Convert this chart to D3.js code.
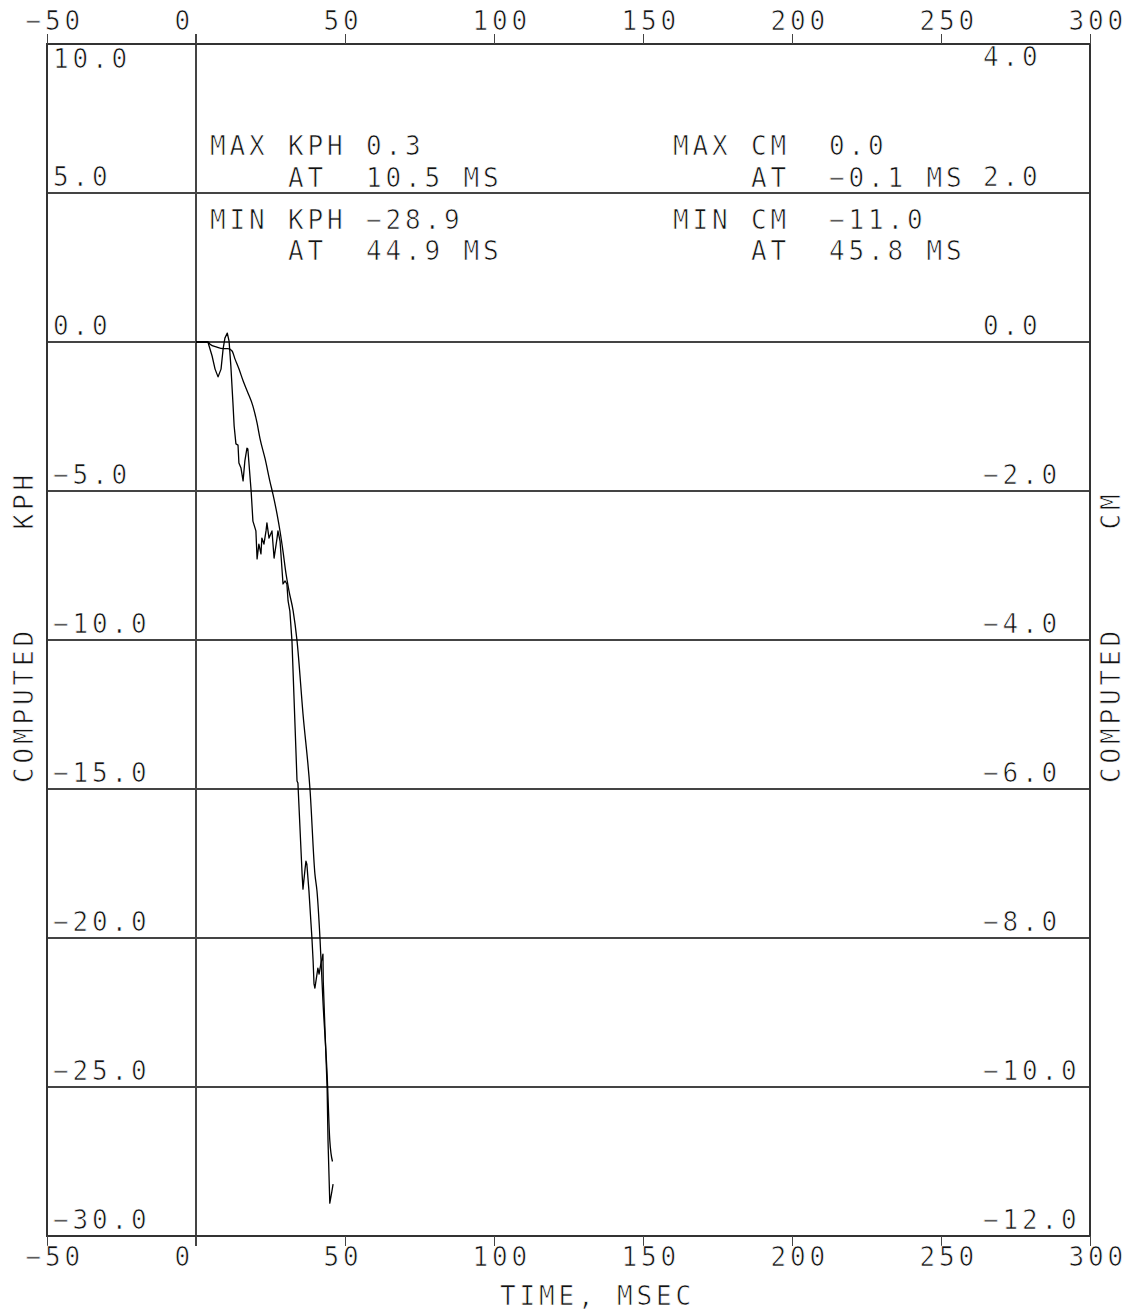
<!DOCTYPE html>
<html>
<head>
<meta charset="utf-8">
<script src="https://cdn.jsdelivr.net/npm/d3@7"></script>
<style>
  html, body { margin: 0; padding: 0; background: #fff; }
  svg text {
    font-family: "DejaVu Sans Mono", "Liberation Mono", monospace;
    font-size: 26px;
    letter-spacing: 3.85px;
    fill: #111;
    stroke: #fff;
    stroke-width: 0.7px;
    white-space: pre;
  }
</style>
</head>
<body>
<div id="chart"></div>
<script>
// ── Data ──────────────────────────────────────────────────────────────────────

const xTicks   = [-50, 0, 50, 100, 150, 200, 250, 300];
const kphTicks = [10, 5, 0, -5, -10, -15, -20, -25, -30];
const cmTicks  = [4, 2, 0, -2, -4, -6, -8, -10, -12];

// velocity trace (KPH) vs time (ms)
const kphTime = [0, 4.0, 5.4, 6.4, 7.4, 8.4, 9.1, 9.7, 10.5, 11.1, 11.7, 12.4, 12.8,
  13.4, 14.1, 14.4, 15.1, 15.8, 16.4, 17.1, 17.4, 18.5, 19.1, 20.1, 20.5, 21.1,
  21.8, 22.1, 22.8, 23.5, 23.8, 24.5, 25.5, 26.2, 27.2, 27.5, 28.2, 29.2, 29.9,
  30.5, 30.9, 31.5, 32.2, 33.9, 34.2, 35.6, 35.9, 36.6, 36.9, 37.2, 37.9, 38.6,
  38.9, 39.3, 39.6, 39.9, 40.6, 40.9, 41.3, 41.9, 42.6, 42.7, 43.3, 44.0, 44.3,
  44.9, 45.6, 46.0];
const kphValue = [0, 0, -0.47, -0.91, -1.17, -0.91, -0.23, 0.13, 0.3, 0.03, -0.81,
  -2.05, -2.82, -3.42, -3.46, -4.06, -4.23, -4.66, -3.99, -3.56, -3.59, -5.0,
  -6.01, -6.34, -7.28, -6.78, -7.11, -6.58, -6.78, -6.34, -6.07, -6.58, -6.34,
  -7.25, -6.58, -6.34, -6.68, -8.12, -8.02, -8.12, -8.69, -9.03, -10.03, -14.73,
  -14.8, -17.85, -18.36, -17.68, -17.42, -17.52, -18.42, -19.53, -20.0, -20.77,
  -21.54, -21.68, -21.21, -21.01, -21.21, -20.87, -20.54, -21.44, -23.12, -25.03,
  -26.8, -28.9, -28.5, -28.26];

// displacement trace (CM) vs time (ms)
const cmTime = [0, 4.0, 4.7, 7.0, 9.1, 10.7, 12.1, 13.1, 14.4, 15.8, 17.4, 19.1,
  20.5, 21.5, 23.2, 24.8, 25.8, 27.2, 28.2, 29.2, 30.2, 31.2, 32.6, 33.9, 35.9,
  38.3, 39.9, 40.6, 41.6, 42.6, 44.0, 44.9, 45.8];
const cmValue = [0, 0, -0.03, -0.07, -0.09, -0.09, -0.12, -0.23, -0.36, -0.52,
  -0.68, -0.86, -1.09, -1.3, -1.57, -1.87, -2.04, -2.31, -2.54, -2.81, -3.11,
  -3.34, -3.61, -4.01, -4.99, -6.03, -7.14, -7.37, -8.0, -8.85, -9.83, -10.72,
  -11.0];

// summary block printed on the plot
const kphNotes = ['MAX KPH 0.3', '    AT  10.5 MS', 'MIN KPH −28.9', '    AT  44.9 MS'];
const cmNotes  = ['MAX CM  0.0', '    AT  −0.1 MS', 'MIN CM  −11.0', '    AT  45.8 MS'];

// ── Layout ────────────────────────────────────────────────────────────────────

const W = 1132, H = 1313;
const L = 47, R = 1090, T = 44, B = 1236;
const TICK = 10;

const svg = d3.select('#chart').append('svg')
  .attr('width', W).attr('height', H)
  .attr('viewBox', `0 0 ${W} ${H}`);

const x  = d3.scaleLinear().domain([-50, 300]).range([L, R]);
const yK = d3.scaleLinear().domain([-30, 10]).range([B, T]);
const yC = d3.scaleLinear().domain([-12, 4]).range([B, T]);

const lineColor = '#444';
const minus = (s) => s.replace('-', '\u2212');

// horizontal grid at every KPH tick
svg.append('g').selectAll('line')
  .data(kphTicks)
  .join('line')
  .attr('x1', L).attr('x2', R)
  .attr('y1', (d) => yK(d)).attr('y2', (d) => yK(d))
  .attr('stroke', lineColor).attr('stroke-width', 1.2)
  .attr('shape-rendering', 'crispEdges');

// zero-time line, running through the tick zones
svg.append('line')
  .attr('x1', x(0)).attr('x2', x(0))
  .attr('y1', T - TICK).attr('y2', B + TICK)
  .attr('stroke', lineColor).attr('stroke-width', 1.2)
  .attr('shape-rendering', 'crispEdges');

// frame
svg.append('rect')
  .attr('x', L).attr('y', T)
  .attr('width', R - L).attr('height', B - T)
  .attr('fill', 'none').attr('stroke', '#333').attr('stroke-width', 1.4)
  .attr('shape-rendering', 'crispEdges');

// ── Axes ──────────────────────────────────────────────────────────────────────

function styleAxis(g) {
  g.select('.domain').remove();
  g.selectAll('line').attr('stroke', lineColor).attr('stroke-width', 1.2)
    .attr('shape-rendering', 'crispEdges');
}

svg.append('g')
  .attr('transform', `translate(0,${T})`)
  .call(d3.axisTop(x).tickValues(xTicks).tickSize(TICK).tickFormat((d) => minus(String(d))))
  .call(styleAxis)
  .call((g) => g.selectAll('text')
    .attr('text-anchor', 'start').attr('x', -22).attr('y', -14).attr('dy', 0));

svg.append('g')
  .attr('transform', `translate(0,${B})`)
  .call(d3.axisBottom(x).tickValues(xTicks).tickSize(TICK).tickFormat((d) => minus(String(d))))
  .call(styleAxis)
  .call((g) => g.selectAll('text')
    .attr('text-anchor', 'start').attr('x', -22).attr('y', 30).attr('dy', 0));

// KPH labels sit inside the frame on the left
svg.append('g')
  .attr('transform', `translate(${L},0)`)
  .call(d3.axisRight(yK).tickValues(kphTicks).tickSize(0).tickPadding(6)
    .tickFormat((d) => minus(d.toFixed(1))))
  .call(styleAxis)
  .call((g) => g.selectAll('text')
    .attr('y', (d) => (d === 10 ? 23 : -8)).attr('dy', 0));

// CM labels sit inside the frame on the right
svg.append('g')
  .attr('transform', 'translate(983,0)')
  .call(d3.axisRight(yC).tickValues(cmTicks).tickSize(0).tickPadding(0)
    .tickFormat((d) => minus(d.toFixed(1))))
  .call(styleAxis)
  .call((g) => g.selectAll('text')
    .attr('y', (d) => (d === 4 ? 21 : -8)).attr('dy', 0));

// axis titles
svg.append('text')
  .attr('transform', 'translate(33,783) rotate(-90)')
  .attr('xml:space', 'preserve')
  .text('COMPUTED     KPH');

svg.append('text')
  .attr('transform', 'translate(1120,783) rotate(-90)')
  .attr('xml:space', 'preserve')
  .text('COMPUTED     CM');

svg.append('text')
  .attr('x', 500).attr('y', 1305)
  .attr('xml:space', 'preserve')
  .text('TIME, MSEC');

// ── Summary notes ─────────────────────────────────────────────────────────────

const noteY = [155, 187, 229, 260];

svg.append('g').selectAll('text')
  .data(kphNotes)
  .join('text')
  .attr('xml:space', 'preserve')
  .attr('x', 210).attr('y', (d, i) => noteY[i])
  .text((d) => d);

svg.append('g').selectAll('text')
  .data(cmNotes)
  .join('text')
  .attr('xml:space', 'preserve')
  .attr('x', 673).attr('y', (d, i) => noteY[i])
  .text((d) => d);

// ── Traces ────────────────────────────────────────────────────────────────────

const kphData = kphTime.map((t, i) => ({ t, v: kphValue[i] }));
const cmData  = cmTime.map((t, i) => ({ t, v: cmValue[i] }));

svg.append('path')
  .datum(kphData)
  .attr('fill', 'none').attr('stroke', '#000').attr('stroke-width', 1.3)
  .attr('stroke-linejoin', 'round')
  .attr('d', d3.line().x((d) => x(d.t)).y((d) => yK(d.v)));

svg.append('path')
  .datum(cmData)
  .attr('fill', 'none').attr('stroke', '#000').attr('stroke-width', 1.3)
  .attr('d', d3.line().x((d) => x(d.t)).y((d) => yC(d.v)).curve(d3.curveMonotoneX));
</script>
</body>
</html>
